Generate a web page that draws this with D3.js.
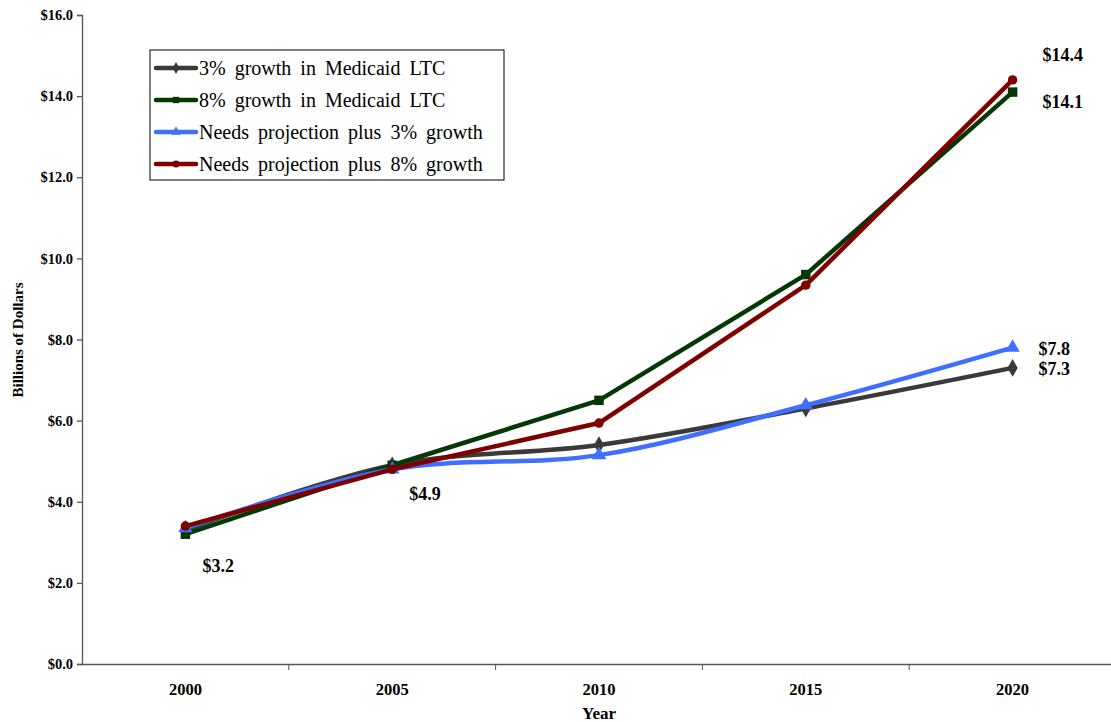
<!DOCTYPE html>
<html>
<head>
<meta charset="utf-8">
<script src="https://cdnjs.cloudflare.com/ajax/libs/d3/7.8.5/d3.min.js"></script>
<style>
  body { margin: 0; background: #fff; }
  text { font-family: "Liberation Serif", "Times New Roman", serif; }
</style>
</head>
<body>
<svg id="chart" width="1111" height="722"></svg>
<script>
// data
var years = ["2000", "2005", "2010", "2015", "2020"];
var yTicks = [0, 2, 4, 6, 8, 10, 12, 14, 16];
var seriesNames = ["3% growth in Medicaid LTC", "8% growth in Medicaid LTC",
                   "Needs projection plus 3% growth", "Needs projection plus 8% growth"];
var medicaid3 = [3.3, 4.9, 5.4, 6.3, 7.3];
var medicaid8 = [3.2, 4.9, 6.5, 9.6, 14.1];
var needs3 = [3.35, 4.8, 5.15, 6.38, 7.8];
var needs8 = [3.4, 4.8, 5.94, 9.34, 14.4];
var labelTexts = [
    {s: 1, i: 0, t: "$3.2"}, {s: 1, i: 1, t: "$4.9"},
    {s: 3, i: 4, t: "$14.4"}, {s: 1, i: 4, t: "$14.1"},
    {s: 2, i: 4, t: "$7.8"}, {s: 0, i: 4, t: "$7.3"}
];

var colors = ["#3a3a3a", "#063806", "#3f6fff", "#7f0000"];
var symbols = [d3.symbolDiamond, d3.symbolSquare, d3.symbolTriangle, d3.symbolCircle];
var curves = [d3.curveCatmullRom, d3.curveLinear, d3.curveCatmullRom, d3.curveLinear];
var allSeries = [medicaid3, medicaid8, needs3, needs8];

var svg = d3.select("#chart");

var x = d3.scaleBand().domain(years).range([82, 1116]);
var y = d3.scaleLinear().domain([0, 16]).range([664, 15]);

// y axis
var yAxis = svg.append("g")
    .attr("transform", "translate(82,0)")
    .call(d3.axisLeft(y).tickValues(yTicks).tickSize(5).tickFormat(function(d){ return "$" + d.toFixed(1); }));
yAxis.selectAll("text").attr("font-size", 14.5).attr("font-weight", "bold").attr("fill", "#000").attr("x", -9);
yAxis.selectAll("line, path").attr("stroke", "#555").attr("stroke-width", 1.3);

// x axis
var xAxis = svg.append("g")
    .attr("transform", "translate(0,664)")
    .call(d3.axisBottom(x).tickSize(0).tickPadding(19));
xAxis.selectAll("text").attr("font-size", 16.5).attr("font-weight", "bold").attr("fill", "#000");
xAxis.select("path").attr("stroke", "#555").attr("stroke-width", 1.3);
xAxis.selectAll(".bnd").data(years.slice(1)).enter().append("line")
    .attr("x1", function(d){ return x(d); }).attr("x2", function(d){ return x(d); })
    .attr("y1", 0).attr("y2", 6).attr("stroke", "#555");

// axis titles
svg.append("text").attr("x", 599).attr("y", 719).attr("text-anchor", "middle")
    .attr("font-size", 17).attr("font-weight", "bold").text("Year");
svg.append("text").attr("transform", "translate(23,340) rotate(-90)").attr("text-anchor", "middle")
    .attr("font-size", 15).attr("font-weight", "bold").text("Billions of Dollars");

var cx = function(i){ return x(years[i]) + x.bandwidth() / 2; };

// lines
allSeries.forEach(function(vals, s) {
    var line = d3.line().x(function(d, i){ return cx(i); }).y(function(d){ return y(d); }).curve(curves[s]);
    svg.append("path").datum(vals).attr("d", line)
        .attr("fill", "none").attr("stroke", colors[s]).attr("stroke-width", 4.5).attr("stroke-linejoin", "round");
    svg.selectAll(".m" + s).data(vals).enter().append("path")
        .attr("transform", function(d, i){ return "translate(" + cx(i) + "," + y(d) + ")"; })
        .attr("d", d3.symbol().type(symbols[s]).size(s == 3 ? 70 : 90))
        .attr("fill", colors[s]);
});

// data labels
var labelOffsets = [[17, 38], [17, 35], [30, -19], [30, 16], [26, 7], [26, 7]];
svg.selectAll(".lbl").data(labelTexts).enter().append("text")
    .attr("x", function(d, k){ return cx(d.i) + labelOffsets[k][0]; })
    .attr("y", function(d, k){ return y(allSeries[d.s][d.i]) + labelOffsets[k][1]; })
    .attr("font-size", 18).attr("font-weight", "bold").text(function(d){ return d.t; });

// legend
var lg = svg.append("g").attr("transform", "translate(150,50)");
lg.append("rect").attr("width", 354).attr("height", 130).attr("fill", "#fff").attr("stroke", "#000").attr("stroke-width", 1);
seriesNames.forEach(function(name, s) {
    var yy = 18 + s * 32;
    lg.append("line").attr("x1", 6).attr("x2", 46).attr("y1", yy).attr("y2", yy)
        .attr("stroke", colors[s]).attr("stroke-width", 4.5).attr("stroke-linecap", "round");
    lg.append("path").attr("transform", "translate(26," + yy + ")")
        .attr("d", d3.symbol().type(symbols[s]).size(40)).attr("fill", colors[s]);
    lg.append("text").attr("x", 49).attr("y", yy + 7).attr("font-size", 20)
        .attr("word-spacing", 4).text(name);
});
</script>
</body>
</html>
